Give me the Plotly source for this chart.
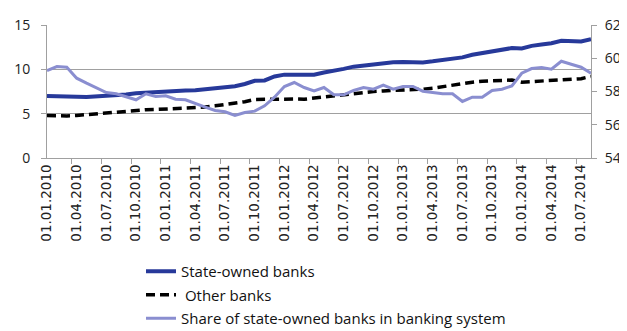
import plotly.graph_objects as go

dates = [f"01.{m:02d}.{y}" for y in range(2010, 2015) for m in range(1, 13)][:56]

state_owned = [7.0, 7.0, 6.95, 6.9, 6.88, 6.92, 7.0, 7.05, 7.15, 7.3,
               7.38, 7.45, 7.5, 7.55, 7.6, 7.65, 7.75, 7.85, 7.95, 8.1,
               8.35, 8.7, 8.75, 9.2, 9.4, 9.4, 9.3, 9.4, 9.65, 9.8,
               10.05, 10.3, 10.45, 10.55, 10.75, 10.8, 10.84, 10.78, 10.78, 10.9,
               11.05, 11.2, 11.35, 11.65, 11.85, 12.0, 12.2, 12.4, 12.35, 12.65,
               12.8, 12.95, 13.22, 13.22, 13.15, 13.4]

other_banks = [4.8, 4.75, 4.75, 4.8, 4.9, 5.0, 5.1, 5.17, 5.3, 5.4,
               5.44, 5.47, 5.52, 5.55, 5.62, 5.66, 5.74, 5.88, 6.03, 6.18,
               6.35, 6.6, 6.63, 6.63, 6.7, 6.65, 6.63, 6.75, 6.93, 7.08,
               7.2, 7.3, 7.38, 7.5, 7.57, 7.6, 7.65, 7.68, 7.76, 7.87,
               8.05, 8.2, 8.42, 8.55, 8.66, 8.7, 8.8, 8.8, 8.55, 8.62,
               8.7, 8.77, 8.81, 8.88, 8.95, 9.2]

share_state = [59.26, 59.5, 59.46, 58.8, 58.5, 58.24, 57.94, 57.86, 57.7, 57.5,
               57.86, 57.7, 57.74, 57.54, 57.5, 57.26, 57.06, 56.86, 56.78, 56.56,
               56.74, 56.82, 57.14, 57.66, 58.3, 58.54, 58.24, 58.04, 58.24, 57.8,
               57.8, 58.06, 58.24, 58.14, 58.38, 58.14, 58.3, 58.3, 58.02, 57.94,
               57.86, 57.86, 57.4, 57.66, 57.66, 58.06, 58.14, 58.34, 59.1, 59.38,
               59.44, 59.34, 59.82, 59.64, 59.46, 59.1]

names = ["State-owned banks", "\u00a0Other banks", "Share of state-owned banks in banking system"]

# The page body has an 8px default margin, so the figure is sized to fit
# the 627x331 window from that offset.
W, H = 619, 323

fig = go.Figure()
fig.add_trace(go.Scatter(x=dates, y=state_owned, name=names[0], mode="lines",
                         line=dict(color="#27399a", width=4), legendgroup="a"))
fig.add_trace(go.Scatter(x=dates, y=other_banks, name=names[1], mode="lines",
                         line=dict(color="#000000", width=3.5, dash="9px,5px"), legendgroup="b"))
fig.add_trace(go.Scatter(x=dates, y=share_state, name=names[2], mode="lines", yaxis="y2",
                         line=dict(color="#8a8ed0", width=3), legendgroup="c"))

fig.update_layout(
    width=W, height=H,
    margin=dict(l=39, r=36, t=17, b=173, autoexpand=False),
    paper_bgcolor="white", plot_bgcolor="white",
    font=dict(family="Open Sans", size=14, color="#222222"),
    xaxis=dict(type="category", tickmode="linear", tick0=0, dtick=3,
               tickson="boundaries", ticks="outside", ticklen=5, tickcolor="#a0a0a0",
               showline=True, linecolor="#a0a0a0", linewidth=1, showgrid=False,
               tickangle=-90, automargin=False,
               tickfont=dict(family="DejaVu Sans", size=13.5, color="#222222")),
    yaxis=dict(range=[0, 15], dtick=5, showgrid=True, gridcolor="#a0a0a0", gridwidth=1,
               showline=True, linecolor="#a0a0a0", ticks="outside", ticklen=5,
               tickcolor="#a0a0a0", zeroline=False, ticklabelstandoff=8, automargin=False),
    yaxis2=dict(range=[54, 62], dtick=2, overlaying="y", side="right", showgrid=False,
                showline=True, linecolor="#a0a0a0", ticks="outside", ticklen=5,
                tickcolor="#a0a0a0", zeroline=False, ticklabelstandoff=5, automargin=False),
    legend=dict(xref="container", yref="container", x=133 / W, y=1 - 247 / H,
                xanchor="left", yanchor="top", orientation="v",
                font=dict(family="Open Sans", size=15, color="#111111"),
                tracegroupgap=1, bgcolor="rgba(0,0,0,0)"),
    showlegend=True,
)

fig.write_html("out.html")
